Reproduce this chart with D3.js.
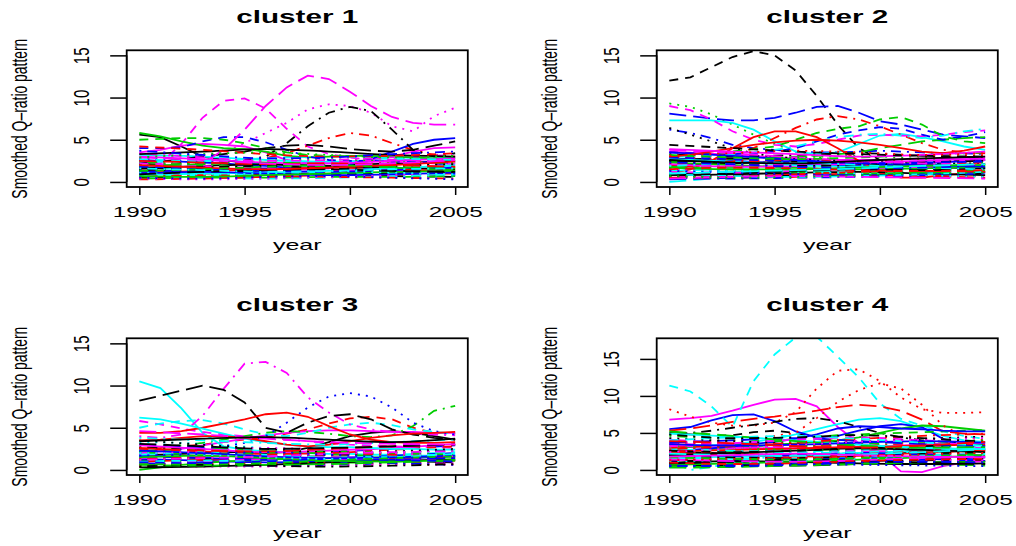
<!DOCTYPE html>
<html>
<head>
<meta charset="utf-8">
<script src="https://cdn.jsdelivr.net/npm/d3@7"></script>
<style>
  body { margin: 0; background: #fff; }
  svg { display: block; }
  text { font-family: "Liberation Sans", Arial, Helvetica, sans-serif; fill: #000; }
</style>
</head>
<body>
<div id="chart"></div>
<script>
// years of the smoothed pattern, and the coarser years used for the background firms
const years = [1990, 1991, 1992, 1993, 1994, 1995, 1996, 1997, 1998, 1999, 2000, 2001, 2002, 2003, 2004, 2005];
const knotYears = [1990, 1993, 1996, 1999, 2002, 2005];
const xTicks = [1990, 1995, 2000, 2005];
const yTicks = [0, 5, 10, 15];
const titles = ["cluster 1", "cluster 2", "cluster 3", "cluster 4"];
const yLimits = [[0, 15], [0, 15], [0, 15], [0, 17.1]];

// firms that stand out: [column in the matrix, values per year]
const c1Lead = [
  [0, [5.6,5.3,4.2,3.0,2.6,2.3,2.1,2.0,1.9,1.9,2.0,2.1,2.2,2.3,2.4,2.5]],
  [5, [3.5,3.8,4.3,4.5,4.4,4.2,3.5,2.6,2.3,2.2,2.4,2.6,3.0,3.6,4.0,4.1]],
  [11, [2.4,2.2,4.5,7.6,9.6,9.9,8.7,6.3,4.2,3.3,2.9,2.6,2.4,2.3,2.2,2.1]],
  [13, [1.8,1.9,2.0,2.1,2.3,2.5,2.8,3.4,4.3,5.2,5.8,5.5,4.6,3.8,3.2,3.0]],
  [15, [2.6,2.5,2.4,2.3,2.2,2.0,1.9,1.7,1.6,1.6,2.1,2.7,3.6,4.5,5.0,5.2]],
  [17, [2.8,2.9,3.0,3.1,3.4,4.6,5.8,7.0,8.6,9.2,9.0,8.2,6.6,6.0,7.8,8.8]],
  [18, [2.0,2.1,2.2,2.3,2.4,2.6,3.0,4.6,6.6,8.2,8.9,8.4,6.2,3.8,3.0,3.4]],
  [20, [5.8,5.4,4.8,4.3,4.0,3.9,3.6,3.1,2.9,3.0,3.1,3.1,3.0,2.9,2.8,2.8]],
  [21, [4.0,4.0,4.1,4.8,5.3,5.3,4.7,3.8,3.0,2.6,2.5,2.5,2.4,2.4,2.3,2.3]],
  [24, [2.2,2.4,2.7,3.0,3.3,3.6,4.0,4.3,4.4,4.2,3.9,3.7,3.6,3.8,4.3,4.8]],
  [26, [5.0,5.1,5.2,5.2,5.0,4.6,4.0,3.5,3.2,3.1,3.1,3.0,2.9,2.8,2.7,2.7]],
  [29, [1.2,1.0,1.3,2.2,3.8,6.2,9.0,11.2,12.6,12.2,10.7,9.0,7.7,7.0,6.8,6.8]]
];
const c1Back = [
  [1.2,1.0,0.9,1.1,1.3,1.5],[0.8,0.7,0.6,0.7,0.9,1.0],[2.1,1.8,1.5,1.6,1.9,2.2],[1.5,1.6,1.4,1.2,1.0,1.1],
  [0.5,0.6,0.8,0.9,0.7,0.6],[2.6,2.2,1.9,2.0,2.3,2.5],[1.8,1.5,1.7,2.1,1.8,1.6],[0.9,1.1,1.3,1.2,1.0,0.8],
  [3.2,3.0,2.6,2.4,2.6,2.9],[1.0,0.8,0.7,0.9,1.2,1.4],[0.4,0.5,0.5,0.6,0.6,0.7],[2.3,2.5,2.2,1.8,1.6,1.9],
  [1.4,1.2,1.0,1.1,1.4,1.8],[0.7,0.9,1.0,0.8,0.6,0.5],[1.9,1.7,1.9,2.3,2.6,2.4],[1.1,1.3,1.5,1.7,1.5,1.3],
  [2.8,2.4,2.0,1.7,1.8,2.0],[0.6,0.5,0.4,0.5,0.7,0.9],[1.6,1.9,2.1,1.9,1.7,1.5],[0.3,0.4,0.6,0.8,0.9,1.0],
  [2.0,2.2,2.5,2.7,2.4,2.1],[1.3,1.1,1.2,1.4,1.6,1.7],[0.9,0.8,0.9,1.1,1.0,0.9],[3.0,2.7,2.3,2.2,2.5,2.8],
  [1.7,1.4,1.1,0.9,1.0,1.2],[0.5,0.7,0.9,1.2,1.4,1.6],[2.4,2.0,1.8,1.9,2.1,2.3],[1.2,1.4,1.6,1.4,1.2,1.0],
  [0.8,1.0,1.1,1.3,1.6,2.0],[2.2,1.9,1.6,1.4,1.3,1.5],[1.5,1.3,1.4,1.6,1.9,2.1],[0.6,0.8,0.7,0.6,0.5,0.4],
  [1.9,2.1,2.3,2.1,1.8,1.6],[1.0,1.2,1.0,0.8,0.9,1.1],[2.7,2.5,2.8,3.0,2.8,2.6],[0.4,0.3,0.4,0.6,0.8,1.2],
  [1.4,1.7,1.9,1.6,1.3,1.2],[2.5,2.3,2.1,2.2,2.0,1.8],[0.7,0.6,0.8,1.0,1.2,1.3],[1.8,1.6,1.3,1.2,1.4,1.7],
  [1.1,0.9,1.0,1.3,1.1,0.9],[3.4,2.9,2.5,2.6,2.9,3.2],[0.9,1.2,1.4,1.5,1.3,1.2],[2.0,1.7,1.5,1.7,2.0,2.4],
  [1.3,1.5,1.8,2.0,1.7,1.4],[0.5,0.4,0.6,0.7,0.5,0.3],[1.6,1.4,1.2,1.3,1.5,1.6],[2.9,2.6,2.2,2.0,2.2,2.6],
  [3.3,3.6,3.9,3.6,3.2,3.0],[4.2,3.8,3.3,3.0,3.1,3.4],[2.9,3.3,3.5,3.2,2.9,3.1],[3.7,3.2,2.8,2.9,3.3,3.6]
];

const c2Lead = [
  [2, [9.3,8.9,8.0,6.8,5.6,4.5,3.6,3.0,2.6,2.4,2.3,2.3,2.2,2.1,2.0,2.0]],
  [3, [6.2,5.8,5.2,4.4,4.0,3.8,3.6,3.5,3.5,3.6,3.7,3.6,3.5,3.4,3.4,3.3]],
  [4, [0.0,0.2,0.4,0.6,0.8,0.9,1.0,1.1,1.2,1.3,1.3,1.4,1.5,1.5,1.6,1.6]],
  [6, [12.0,12.4,13.6,14.8,15.5,15.0,13.2,10.2,6.8,4.0,2.6,2.2,2.1,2.3,2.6,2.9]],
  [9, [8.1,7.8,7.5,7.3,7.3,7.6,8.2,8.9,9.0,8.2,7.2,6.8,6.2,5.6,5.4,5.2]],
  [10, [7.3,7.3,7.3,7.0,6.2,4.8,3.6,3.3,3.5,4.5,5.5,5.7,5.3,4.8,4.2,3.8]],
  [11, [9.0,8.5,7.4,6.0,5.0,4.4,4.2,4.5,5.0,5.5,5.6,5.5,5.4,5.6,5.9,6.1]],
  [12, [6.4,5.6,4.8,4.0,3.4,3.0,2.8,2.6,2.5,2.4,2.4,2.3,2.3,2.2,2.2,2.2]],
  [13, [2.5,2.6,2.8,3.2,4.0,5.2,6.4,7.4,7.8,7.4,6.6,5.6,4.6,3.8,3.5,3.4]],
  [14, [2.4,2.5,2.6,2.7,2.8,2.9,3.0,3.1,3.3,3.5,4.0,4.4,4.8,5.0,5.2,5.3]],
  [21, [3.5,3.4,3.3,3.3,3.4,3.6,4.0,4.8,5.6,6.1,6.5,6.3,5.6,5.0,5.4,5.9]],
  [25, [1.0,1.5,2.5,4.0,5.3,6.0,6.0,5.3,4.0,2.5,1.2,0.5,0.5,0.8,1.0,1.2]],
  [26, [3.0,3.1,3.3,3.6,3.9,4.2,5.0,5.8,6.3,6.6,7.4,7.7,6.8,5.4,4.8,4.6]],
  [28, [3.0,3.0,3.1,3.3,3.5,3.8,4.2,4.8,5.3,5.6,5.7,5.5,5.2,5.5,6.0,6.3]],
  [55, [3.0,3.2,3.6,4.0,4.4,4.7,4.9,5.0,4.9,4.7,4.4,4.0,3.6,3.4,3.7,4.2]]
];
const c2Back = [
  [2.0,2.2,2.4,2.1,1.8,1.6],[1.1,1.0,0.9,1.0,1.2,1.3],[3.6,3.2,2.8,2.6,2.7,3.0],[0.6,0.7,0.8,0.7,0.6,0.7],
  [1.7,1.9,1.6,1.3,1.2,1.4],[2.8,2.5,2.1,1.9,2.2,2.6],[0.9,1.2,1.5,1.4,1.1,0.9],[1.4,1.2,1.1,1.3,1.6,1.9],
  [3.3,3.0,3.2,3.4,3.1,2.9],[0.4,0.5,0.6,0.8,0.7,0.5],[2.3,2.0,1.7,1.5,1.6,1.8],[1.2,1.4,1.7,1.9,1.6,1.2],
  [0.7,0.6,0.7,0.9,1.1,1.4],[2.6,2.8,2.5,2.2,2.0,2.1],[1.5,1.3,1.2,1.4,1.5,1.5],[3.8,3.4,2.9,2.5,2.4,2.6],
  [0.8,0.9,1.1,1.2,1.0,0.8],[1.9,1.7,1.5,1.7,2.0,2.3],[2.4,2.6,2.9,3.1,2.7,2.3],[0.5,0.4,0.5,0.6,0.8,1.0],
  [1.3,1.5,1.4,1.2,1.0,1.1],[2.1,1.8,1.9,2.2,2.5,2.8],[1.0,0.8,0.7,0.8,0.9,1.0],[3.0,2.6,2.3,2.4,2.8,3.2],
  [1.6,1.8,2.0,1.8,1.5,1.3],[0.3,0.5,0.7,0.9,1.0,1.1],[2.7,2.4,2.0,1.8,1.9,2.0],[1.2,1.1,1.3,1.6,1.8,2.0],
  [0.6,0.8,1.0,1.1,0.9,0.7],[2.2,2.4,2.6,2.3,2.0,1.9],[1.8,1.5,1.2,1.0,1.1,1.3],[3.5,3.1,2.6,2.2,2.0,1.8],
  [0.9,0.7,0.6,0.7,0.9,1.2],[1.4,1.6,1.8,2.1,2.3,2.5],[2.5,2.2,1.9,2.0,2.3,2.5],[0.5,0.6,0.9,1.2,1.3,1.2],
  [1.7,1.5,1.5,1.7,1.9,2.0],[2.9,2.7,2.4,2.2,2.3,2.4],[1.1,1.3,1.2,1.0,0.8,0.6],[2.0,1.9,2.1,2.4,2.2,2.0],
  [0.8,1.0,1.3,1.5,1.4,1.6],[3.2,2.9,2.7,2.9,3.2,3.5],[1.3,1.1,0.9,0.8,0.9,1.0],[1.9,2.2,2.3,2.0,1.7,1.5],
  [0.4,0.6,0.7,0.6,0.5,0.4],[2.6,2.3,2.2,2.5,2.8,3.0],[1.5,1.7,1.6,1.4,1.3,1.4],[0.7,0.5,0.6,0.8,1.0,1.1],
  [2.3,2.1,1.8,1.6,1.7,1.9],[1.0,1.2,1.4,1.6,1.9,2.1],
  [3.9,3.6,3.3,3.0,3.2,3.6],[4.4,4.0,3.6,3.3,3.1,3.0],[3.1,3.4,3.7,3.5,3.2,3.4]
];

const c3Lead = [
  [0, [1.8,1.8,1.9,2.0,2.1,2.1,2.0,2.1,2.6,3.3,4.0,4.4,4.6,4.4,4.0,3.6]],
  [1, [2.5,2.6,2.8,3.0,3.3,3.6,3.9,4.3,4.8,5.5,6.1,6.3,6.0,5.0,4.4,4.3]],
  [5, [2.0,2.2,2.5,2.9,3.3,3.7,4.1,4.4,4.6,4.7,4.7,4.6,4.5,4.5,4.4,4.4]],
  [8, [2.6,2.7,2.9,3.2,3.6,4.0,4.4,4.6,4.5,4.3,4.0,3.9,4.1,5.2,7.0,7.6]],
  [10, [10.5,9.7,7.3,4.4,2.8,2.4,2.2,2.1,2.0,1.9,1.9,1.8,1.8,1.7,1.7,1.7]],
  [11, [5.8,5.4,4.9,4.5,4.2,4.0,3.8,3.6,3.4,3.2,3.0,2.9,2.8,2.7,2.7,2.6]],
  [16, [5.0,5.5,5.8,5.9,5.5,4.8,4.2,4.0,4.4,5.0,5.4,5.6,5.3,4.8,4.5,4.3]],
  [20, [0.0,0.3,0.6,0.8,1.0,1.1,1.2,1.3,1.3,1.4,1.4,1.5,1.5,1.5,1.6,1.6]],
  [23, [4.0,3.8,4.2,6.4,9.6,12.6,12.8,11.5,8.6,6.8,5.4,4.8,4.5,4.3,4.2,4.1]],
  [24, [8.2,8.8,9.4,10.0,9.5,8.0,5.0,4.4,5.6,6.4,6.6,6.0,4.8,4.2,3.8,3.6]],
  [25, [4.4,4.4,4.6,5.0,5.5,6.0,6.6,6.8,6.3,5.2,4.2,3.6,3.3,3.2,3.2,3.3]],
  [27, [2.2,2.3,2.4,2.5,2.8,3.2,4.0,5.6,7.4,8.7,9.1,8.7,7.4,5.6,4.6,4.2]],
  [40, [6.2,6.0,5.5,4.9,4.3,3.7,3.3,3.0,2.8,2.7,2.7,2.6,2.5,2.5,2.4,2.4]],
  [55, [3.5,3.6,3.8,4.0,4.0,3.8,3.4,3.0,2.8,3.0,3.4,3.8,4.1,4.3,4.4,4.5]]
];
const c3Back = [
  [1.5,1.3,1.1,1.2,1.4,1.7],[0.8,0.6,0.5,0.6,0.8,1.0],[2.4,2.1,1.8,1.6,1.8,2.1],[1.1,1.3,1.5,1.3,1.1,0.9],
  [0.4,0.5,0.7,0.8,0.7,0.6],[3.0,2.7,2.4,2.2,2.5,2.9],[1.9,1.7,1.6,1.8,2.1,2.3],[0.6,0.8,1.0,1.1,0.9,0.7],
  [2.2,2.5,2.3,1.9,1.6,1.5],[1.3,1.1,0.9,1.0,1.3,1.6],[0.5,0.4,0.4,0.5,0.6,0.8],[2.7,2.4,2.0,1.8,2.0,2.4],
  [1.0,1.2,1.4,1.6,1.4,1.1],[1.7,1.5,1.3,1.4,1.7,2.0],[3.3,3.1,2.6,2.3,2.1,2.0],[0.9,0.7,0.6,0.8,1.0,1.3],
  [2.0,2.2,2.4,2.1,1.8,1.7],[1.4,1.6,1.5,1.3,1.2,1.3],[0.3,0.4,0.6,0.9,1.1,1.2],[2.5,2.2,1.9,2.0,2.4,2.8],
  [1.2,1.0,1.1,1.4,1.6,1.8],[0.7,0.9,1.2,1.0,0.8,0.6],[1.8,2.0,1.7,1.5,1.6,1.9],[2.9,2.5,2.1,2.3,2.6,3.1],
  [1.1,0.9,0.8,0.9,1.1,1.2],[0.5,0.7,0.8,1.0,1.3,1.5],[2.1,1.9,2.0,2.2,2.0,1.8],[1.6,1.4,1.2,1.1,1.2,1.4],
  [0.8,1.0,1.3,1.5,1.3,1.0],[3.5,3.0,2.5,2.1,2.2,2.5],[1.3,1.5,1.8,2.0,1.8,1.5],[0.6,0.5,0.6,0.7,0.9,1.1],
  [2.3,2.0,1.6,1.4,1.5,1.7],[1.0,1.1,1.0,1.2,1.5,1.9],[1.9,2.2,2.6,2.4,2.0,1.6],[0.4,0.6,0.5,0.4,0.5,0.7],
  [2.6,2.3,2.2,2.5,2.8,3.0],[1.5,1.7,1.4,1.1,1.0,1.2],[0.9,0.8,1.0,1.3,1.2,1.0],[2.0,1.8,1.5,1.3,1.5,2.0],
  [1.2,1.4,1.6,1.9,2.1,2.2],[3.1,2.8,2.5,2.6,2.8,3.0],[0.7,0.6,0.8,1.1,1.4,1.6],[1.7,1.9,2.1,1.8,1.5,1.4],
  [3.8,3.5,3.2,3.0,3.3,3.6],[4.6,4.2,3.7,3.3,3.1,3.0],[3.4,3.7,3.9,3.6,3.3,3.7]
];

const c4Lead = [
  [5, [6.8,7.0,7.3,8.0,8.8,9.5,9.6,8.6,5.8,3.6,2.2,-0.2,-0.3,0.5,1.0,1.2]],
  [6, [5.0,4.8,4.6,4.7,5.1,5.3,5.0,4.4,3.8,3.4,3.2,3.0,2.9,2.8,2.8,2.8]],
  [7, [8.2,7.2,6.4,6.0,6.0,6.4,7.8,11.0,13.4,13.6,12.0,9.8,8.2,7.7,7.7,7.8]],
  [10, [3.0,3.1,3.3,3.5,3.8,4.2,4.8,5.5,6.2,6.8,7.0,6.6,5.6,4.6,4.0,3.8]],
  [15, [5.5,5.8,6.7,7.4,7.5,6.6,5.2,4.4,4.6,5.3,5.9,6.2,5.8,4.2,3.2,2.8]],
  [16, [11.4,10.6,8.6,5.8,12.0,15.6,17.9,18.0,15.3,12.5,9.0,6.9,6.0,5.2,4.6,4.2]],
  [18, [4.8,5.0,5.3,5.7,6.1,6.5,6.9,7.0,6.6,5.8,5.0,4.4,4.0,3.8,3.6,3.5]],
  [19, [5.3,5.6,6.0,6.5,6.9,7.2,7.6,8.0,8.5,8.8,8.6,8.0,6.8,5.2,4.9,4.8]],
  [20, [2.5,2.6,2.8,3.0,3.2,3.4,3.6,3.8,4.0,4.4,5.0,5.6,6.0,5.9,5.6,5.3]],
  [26, [3.0,3.1,3.2,3.4,3.6,3.9,4.2,4.5,4.7,4.8,4.9,5.0,5.1,5.2,5.3,5.4]],
  [28, [1.2,0.0,0.4,1.0,1.5,1.8,2.0,2.1,2.2,2.3,2.3,2.4,2.4,2.5,2.5,2.5]],
  [37, [3.5,3.6,3.8,4.0,4.3,4.6,5.0,7.0,9.2,10.8,11.7,11.0,8.8,6.0,4.5,4.0]],
  [45, [2.6,2.7,2.9,3.2,3.5,3.8,4.2,4.8,5.6,5.9,5.8,5.6,5.5,5.3,5.2,5.2]]
];
const c4Back = [
  [2.5,2.2,2.0,2.2,2.5,2.7],[1.2,1.4,1.6,1.8,1.6,1.3],[3.4,3.0,2.7,2.9,3.2,3.5],[0.6,0.8,1.0,1.2,1.1,0.9],
  [1.8,1.6,1.5,1.7,2.0,2.2],[2.9,3.1,3.3,3.0,2.6,2.4],[0.9,0.8,0.9,1.1,1.4,1.7],[2.1,2.4,2.7,2.5,2.2,2.0],
  [1.5,1.3,1.2,1.4,1.7,1.9],[3.8,3.4,3.1,3.3,3.6,3.9],[0.4,0.5,0.7,0.9,0.8,0.6],[2.7,2.5,2.2,2.0,2.1,2.3],
  [1.1,1.3,1.7,2.0,1.8,1.5],[1.9,2.1,2.3,2.6,2.9,3.1],[3.1,2.8,2.4,2.2,2.4,2.8],[0.7,0.6,0.6,0.8,1.0,1.2],
  [2.3,2.0,1.8,1.9,2.3,2.6],[1.4,1.6,1.9,2.2,2.0,1.7],[4.1,3.6,3.2,3.0,3.1,3.3],[1.0,1.2,1.1,0.9,0.8,0.9],
  [2.0,1.8,1.7,2.0,2.4,2.7],[2.6,2.9,3.2,3.4,3.0,2.5],[0.5,0.7,0.9,1.0,1.2,1.4],[1.7,1.5,1.3,1.5,1.8,2.1],
  [3.3,3.0,2.9,3.1,3.4,3.6],[1.3,1.1,1.0,1.2,1.3,1.4],[2.2,2.5,2.8,2.6,2.3,2.1],[0.8,1.0,1.3,1.6,1.5,1.2],
  [1.6,1.8,2.0,2.3,2.6,2.9],[3.6,3.2,2.8,2.5,2.7,3.0],[1.1,0.9,0.8,1.0,1.3,1.6],[2.4,2.2,2.1,2.3,2.5,2.6],
  [0.3,0.4,0.6,0.8,1.0,1.1],[2.8,2.6,2.5,2.7,3.0,3.3],[1.5,1.7,1.8,1.6,1.4,1.3],[1.9,1.7,1.6,1.9,2.2,2.4],
  [3.0,3.3,3.5,3.2,2.8,2.6],[0.7,0.9,1.1,1.4,1.7,1.9],[2.1,1.9,2.0,2.3,2.1,1.9],[1.2,1.0,1.2,1.5,1.8,2.0],
  [3.9,3.5,3.0,2.7,2.9,3.2],[0.9,1.1,1.4,1.2,1.0,0.8],[2.5,2.7,2.9,3.1,3.3,3.4],[1.7,1.5,1.4,1.6,1.9,2.0],
  [0.5,0.6,0.8,0.7,0.6,0.5],[2.9,2.6,2.3,2.4,2.7,3.0],[1.4,1.2,1.1,1.3,1.6,1.8],[2.0,2.3,2.6,2.9,2.7,2.4],
  [1.0,0.8,0.9,1.2,1.4,1.5],[3.2,3.0,2.7,2.8,3.1,3.4],[0.6,0.5,0.7,1.0,1.1,1.0],[2.2,2.0,1.9,2.1,2.4,2.8],
  [1.8,2.0,2.2,2.0,1.8,1.7],[2.6,2.4,2.6,2.9,3.2,3.5],[1.3,1.5,1.6,1.8,2.1,2.3],
  [4.6,4.2,3.8,3.6,3.8,4.0],[3.7,4.0,4.3,3.9,3.5,3.2],[4.9,4.5,4.0,3.4,3.0,2.8],[3.2,3.6,4.1,4.4,4.0,3.6],
  [4.3,3.9,3.6,3.8,4.2,4.5],[2.8,3.2,3.7,4.2,4.6,4.9],[5.2,4.6,3.9,3.3,3.0,3.1],[3.5,3.3,3.4,3.7,3.9,3.7],
  [4.0,4.4,4.6,4.2,3.7,3.3],[2.4,2.9,3.4,3.8,4.1,4.3],[4.8,4.3,4.4,4.7,4.3,3.8],[3.9,3.6,3.2,3.0,3.3,3.8]
];

// matplot-like column order: lead firms are put back at their own column
function columns(back, lead) {
  const cols = back.slice();
  lead.forEach(([id, v]) => cols.splice(id, 0, v));
  return cols;
}
const clusters = [
  columns(c1Back, c1Lead),
  columns(c2Back, c2Lead),
  columns(c3Back, c3Lead),
  columns(c4Back, c4Lead)
];

const W = 1016, H = 546;
const colors = ["#000000", "#ff0000", "#00cd00", "#0000ff", "#00ffff", "#ff00ff"];
const dashes = [null, "9,7", "2,6", "2,6,10,6", "17,7"];
const offsets = [[0, 0], [530, 0], [0, 288], [530, 288]];
const box = { x0: 126.7, x1: 467.8, y0: 50.3, y1: 187 };
const sx = 1.5; // the picture's text is wider than it is tall

const svg = d3.select("#chart").append("svg")
  .attr("width", W)
  .attr("height", H);

clusters.forEach((series, k) => {
  const [ox, oy] = offsets[k];
  const g = svg.append("g").attr("transform", `translate(${ox},${oy})`);

  const [lo, hi] = yLimits[k];
  const ey = (hi - lo) * 0.04, ex = (2005 - 1990) * 0.04;
  const x = d3.scaleLinear().domain([1990 - ex, 2005 + ex]).range([box.x0, box.x1]);
  const y = d3.scaleLinear().domain([lo - ey, hi + ey]).range([box.y1, box.y0]);

  g.append("clipPath").attr("id", "clip" + k)
    .append("rect")
    .attr("x", box.x0).attr("y", box.y0)
    .attr("width", box.x1 - box.x0).attr("height", box.y1 - box.y0);

  const lines = g.append("g").attr("clip-path", `url(#clip${k})`);
  series.forEach((v, i) => {
    const full = v.length === years.length;
    const yrs = full ? years : knotYears;
    const line = d3.line()
      .x((d, j) => x(yrs[j]))
      .y(d => y(d))
      .curve(full ? d3.curveLinear : d3.curveMonotoneX);
    lines.append("path")
      .attr("d", line(v))
      .attr("fill", "none")
      .attr("stroke", colors[i % 6])
      .attr("stroke-width", 1.8)
      .attr("stroke-dasharray", dashes[i % 5]);
  });

  // box
  g.append("rect")
    .attr("x", box.x0).attr("y", box.y0)
    .attr("width", box.x1 - box.x0).attr("height", box.y1 - box.y0)
    .attr("fill", "none").attr("stroke", "#000").attr("stroke-width", 1.8);

  // x axis
  const xa = g.append("g").attr("transform", `translate(0,${box.y1})`)
    .call(d3.axisBottom(x).tickValues(xTicks).tickSize(8).tickSizeOuter(0).tickFormat(d3.format("d")));
  xa.select(".domain").remove();
  xa.selectAll("line").attr("stroke", "#000").attr("stroke-width", 1.5);
  xa.selectAll("text")
    .attr("y", 30.3).attr("dy", null)
    .attr("font-size", 15)
    .attr("textLength", 54).attr("lengthAdjust", "spacingAndGlyphs");

  // y axis
  const ya = g.append("g").attr("transform", `translate(${box.x0},0)`)
    .call(d3.axisLeft(y).tickValues(yTicks).tickSize(16.5).tickSizeOuter(0));
  ya.select(".domain").remove();
  ya.append("line")
    .attr("y1", y(yTicks[0])).attr("y2", y(yTicks[yTicks.length - 1]))
    .attr("stroke", "#000").attr("stroke-width", 1.8);
  ya.selectAll("line").attr("stroke", "#000").attr("stroke-width", 1.5);
  ya.selectAll(".tick text")
    .attr("x", null).attr("dy", null)
    .attr("text-anchor", "middle")
    .attr("font-size", 15)
    .attr("transform", `translate(${89 - box.x0},0) scale(${sx},1) rotate(-90)`);

  const cx = (box.x0 + box.x1) / 2, cy = (box.y0 + box.y1) / 2;

  g.append("text")
    .attr("x", cx).attr("y", 23.3)
    .attr("text-anchor", "middle")
    .attr("font-size", 17.5).attr("font-weight", "bold")
    .attr("textLength", 122).attr("lengthAdjust", "spacingAndGlyphs")
    .text(titles[k]);

  g.append("text")
    .attr("x", cx).attr("y", 249.5)
    .attr("text-anchor", "middle")
    .attr("font-size", 15)
    .attr("textLength", 48.7).attr("lengthAdjust", "spacingAndGlyphs")
    .text("year");

  g.append("text")
    .attr("transform", `translate(27.2,${cy}) scale(${sx},1) rotate(-90)`)
    .attr("text-anchor", "middle")
    .attr("font-size", 14.5)
    .attr("textLength", 160).attr("lengthAdjust", "spacingAndGlyphs")
    .text("Smoothed Q\u2013ratio pattern");
});
</script>
</body>
</html>
